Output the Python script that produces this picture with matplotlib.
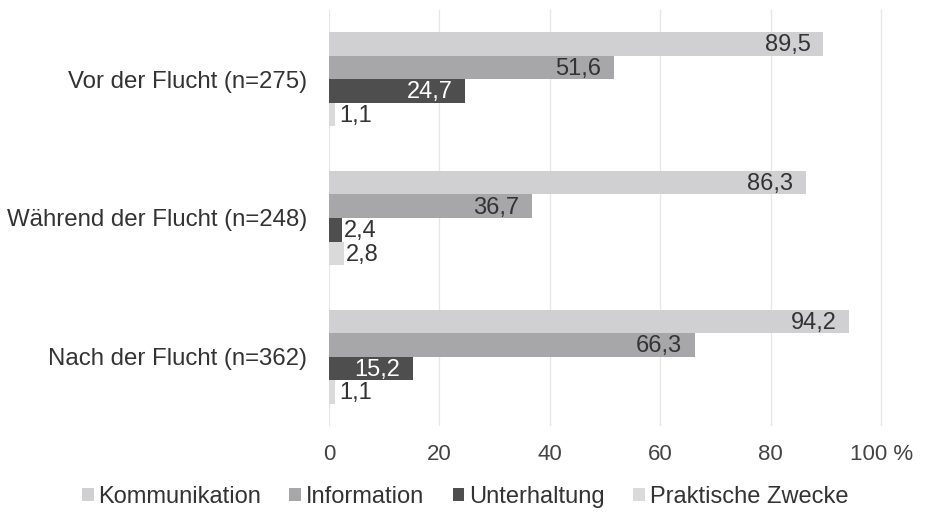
import matplotlib
matplotlib.use("Agg")
import matplotlib.pyplot as plt
import numpy as np

# ── Data ───────────────────────────────────────────────
groups = ["Vor der Flucht (n=275)", "Während der Flucht (n=248)", "Nach der Flucht (n=362)"]
series = ["Kommunikation", "Information", "Unterhaltung", "Praktische Zwecke"]
kommunikation = [89.5, 86.3, 94.2]
information = [51.6, 36.7, 66.3]
unterhaltung = [24.7, 2.4, 15.2]
praktisch = [1.1, 2.8, 1.1]
xticks = [0, 20, 40, 60, 80, 100]
xticklabels = ["0", "20", "40", "60", "80", "100 %"]

# ── Style ──────────────────────────────────────────────
colors = ["#d0d0d2", "#a7a7a9", "#4e4e4e", "#dadada"]
label_colors = ["#333333", "#333333", "#ffffff", "#333333"]
TEXT = "#333333"
plt.rcParams["font.family"] = ["Liberation Sans", "DejaVu Sans"]

fig = plt.figure(figsize=(9.28, 5.13), dpi=100)
ax = fig.add_axes([0.3545, 0.1696, 0.598, 0.811])

values = [kommunikation, information, unterhaltung, praktisch]
bar_h = 0.17
ypos = np.arange(len(groups))

for i, (name, vals) in enumerate(zip(series, values)):
    y = ypos - 1.5 * bar_h + i * bar_h
    ax.barh(y, vals, height=bar_h, color=colors[i], label=name, zorder=2)
    for yy, v in zip(y, vals):
        txt = f"{v:.1f}".replace(".", ",")
        if v > 10:
            ax.text(v - 2.3, yy + 0.01, txt, ha="right", va="center",
                    fontsize=17, color=label_colors[i], zorder=3)
        else:
            ax.text(max(v, 1.6) + 0.3, yy + 0.01, txt, ha="left", va="center",
                    fontsize=17, color=TEXT, zorder=3)

ax.set_ylim(2.5, -0.5)
ax.set_xlim(0, 100.5)
ax.set_yticks(ypos)
ax.set_yticklabels(groups, fontsize=17.3, color=TEXT)
ax.set_xticks(xticks)
ax.set_xticklabels(xticklabels, fontsize=16, color="#444444",
                   family=["Liberation Sans Narrow", "Liberation Sans"])
ax.tick_params(length=0)
ax.tick_params(axis="x", pad=13)
ax.tick_params(axis="y", pad=16)
ax.grid(axis="x", color="#e6e6e6", lw=0.9, zorder=0)
for s in ax.spines.values():
    s.set_visible(False)

ax.legend(loc="upper center", bbox_to_anchor=(0.245, -0.11), ncol=4,
          frameon=False, fontsize=17, handlelength=0.5, handleheight=0.5,
          handletextpad=0.2, columnspacing=1.2, labelcolor=TEXT,
          borderaxespad=0.2)

fig.savefig("out.png", dpi=100)
